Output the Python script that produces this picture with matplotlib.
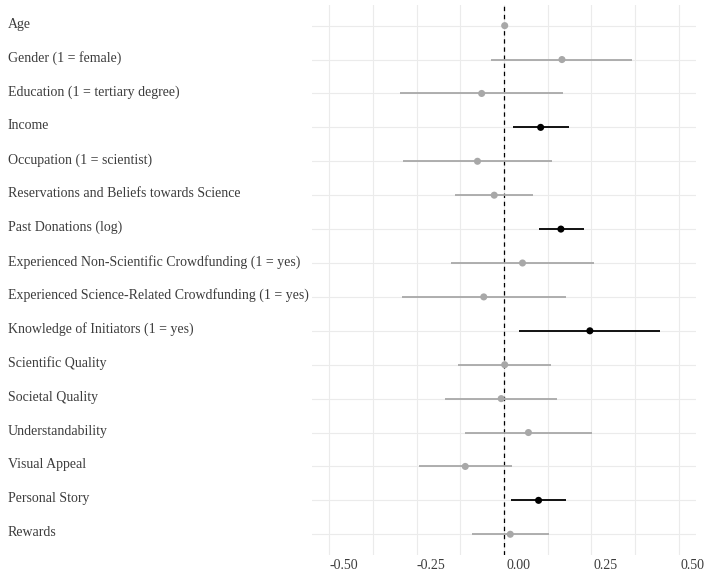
import matplotlib.pyplot as plt
import matplotlib.transforms as mtransforms
import numpy as np

variables = [
    "Age",
    "Gender (1 = female)",
    "Education (1 = tertiary degree)",
    "Income",
    "Occupation (1 = scientist)",
    "Reservations and Beliefs towards Science",
    "Past Donations (log)",
    "Experienced Non-Scientific Crowdfunding (1 = yes)",
    "Experienced Science-Related Crowdfunding (1 = yes)",
    "Knowledge of Initiators (1 = yes)",
    "Scientific Quality",
    "Societal Quality",
    "Understandability",
    "Visual Appeal",
    "Personal Story",
    "Rewards",
]
estimate = [0.002, 0.166, -0.064, 0.105, -0.076, -0.028, 0.163, 0.053,
            -0.058, 0.246, 0.002, -0.008, 0.070, -0.111, 0.099, 0.018]
ci_low = [-0.001, -0.036, -0.297, 0.025, -0.290, -0.141, 0.101, -0.151,
          -0.293, 0.044, -0.132, -0.168, -0.113, -0.244, 0.020, -0.093]
ci_high = [0.005, 0.367, 0.169, 0.187, 0.138, 0.084, 0.228, 0.258,
           0.179, 0.448, 0.136, 0.152, 0.253, 0.023, 0.178, 0.130]
significant = [False, False, False, True, False, False, True, False,
               False, True, False, False, False, False, True, False]
x_ticks = [-0.50, -0.25, 0.00, 0.25, 0.50]
x_tick_labels = ["-0.50", "-0.25", "0.00", "0.25", "0.50"]

plt.rcParams['font.family'] = ['Liberation Serif', 'DejaVu Serif']

fig = plt.figure(figsize=(7.06, 5.73), dpi=100)
ax = fig.add_axes([312 / 706, 1 - 554.6 / 573, 384 / 706, 549.3 / 573])

y = np.arange(len(variables))
colors = ['black' if s else '#a8a8a8' for s in significant]

ax.axvline(0, color='black', lw=0.9, ls=(0, (3.5, 3)), zorder=2)
ax.hlines(y, ci_low, ci_high, colors=colors, lw=1.3, zorder=3)
ax.scatter(estimate, y, c=colors, s=26, zorder=4, edgecolors='none')

ax.set_xlim(-0.55, 0.55)
ax.set_ylim(len(variables) - 0.4, -0.6)

ax.set_xticks(x_ticks)
ax.set_xticklabels(x_tick_labels)
ax.set_xticks(np.arange(-0.375, 0.5, 0.25), minor=True)
ax.set_yticks(y)
ax.set_yticklabels(variables)

ax.grid(True, which='both', color='#ebebeb', lw=0.8)
ax.set_axisbelow(True)
for s in ax.spines.values():
    s.set_visible(False)

ax.tick_params(axis='both', which='both', length=0, labelsize=10, labelcolor='#3c3c3c')
ax.tick_params(axis='x', pad=3)
ax.tick_params(axis='y', pad=219)
for lab in ax.get_yticklabels():
    lab.set_horizontalalignment('left')

# text in the original sits slightly off its gridlines
xshift = mtransforms.ScaledTranslation(14 / 100, 0, fig.dpi_scale_trans)
for lab in ax.get_xticklabels():
    lab.set_transform(lab.get_transform() + xshift)
yshift = mtransforms.ScaledTranslation(0, 3 / 100, fig.dpi_scale_trans)
for lab in ax.get_yticklabels():
    lab.set_transform(lab.get_transform() + yshift)

fig.savefig("out.png", dpi=100, facecolor='white')
